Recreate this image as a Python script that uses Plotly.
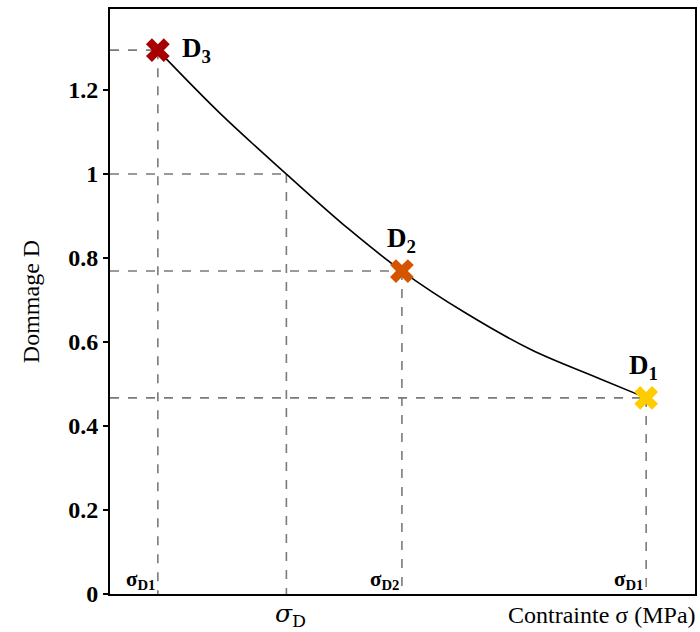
import plotly.graph_objects as go

# Curve (stress in arbitrary units, damage D)
curve_sigma = [8.18, 19.0, 30.15, 40.9, 49.9, 60.8, 72.1, 83.5, 91.65]
curve_D = [1.295, 1.142, 1.0, 0.868, 0.769, 0.669, 0.581, 0.514, 0.467]

# Marked points
point_names = ["D<sub>3</sub>", "D<sub>2</sub>", "D<sub>1</sub>"]
point_sigma = [8.18, 49.9, 91.65]
point_D = [1.295, 0.769, 0.467]
point_colors = ["#A80000", "#D45500", "#FFCC00"]
sigma_labels = ["σ<sub>D1</sub>", "σ<sub>D2</sub>", "σ<sub>D1</sub>"]

# Critical damage
sigma_D = 30.15
D_crit = 1.0

y_ticks = [0, 0.2, 0.4, 0.6, 0.8, 1.0, 1.2]
y_ticktext = ["0", "0.2", "0.4", "0.6", "0.8", "1", "1.2"]

SERIF = "Liberation Serif"
dash_style = dict(color="#7a7a7a", width=1.6, dash="dash")

fig = go.Figure()

shapes = []
for s, d in zip(point_sigma, point_D):
    shapes.append(dict(type="line", xref="x", yref="y", x0=0, x1=s, y0=d, y1=d,
                       line=dash_style, layer="below"))
    shapes.append(dict(type="line", xref="x", yref="y", x0=s, x1=s, y0=d, y1=0,
                       line=dash_style, layer="below"))
shapes.append(dict(type="line", xref="x", yref="y", x0=0, x1=sigma_D, y0=D_crit, y1=D_crit,
                   line=dash_style, layer="below"))
shapes.append(dict(type="line", xref="x", yref="y", x0=sigma_D, x1=sigma_D, y0=D_crit, y1=-0.015,
                   line=dash_style, layer="below"))

fig.add_trace(go.Scatter(x=curve_sigma, y=curve_D, mode="lines",
                         line=dict(color="black", width=1.6, shape="spline", smoothing=1.0),
                         showlegend=False, hoverinfo="skip"))

fig.add_trace(go.Scatter(x=point_sigma, y=point_D, mode="markers",
                         marker=dict(symbol="x", size=21, color=point_colors,
                                     line=dict(width=0)),
                         showlegend=False, cliponaxis=False))

annotations = []
# point labels
label_offsets = [(22, 0, "left"), (0, 31, "center"), (-3, 31, "center")]
for name, s, d, (dx, dy, anc) in zip(point_names, point_sigma, point_D, label_offsets):
    annotations.append(dict(x=s, y=d, xref="x", yref="y", text="<b>" + name + "</b>",
                            showarrow=False, xanchor=anc, xshift=dx, yshift=dy,
                            font=dict(family=SERIF, size=27, color="black")))
# sigma labels at bottom inside the axes
for lab, s in zip(sigma_labels, point_sigma):
    annotations.append(dict(x=s, y=0, xref="x", yref="y", text="<b>" + lab + "</b>",
                            showarrow=False, xanchor="right", yanchor="bottom",
                            xshift=-1, yshift=-1,
                            font=dict(family=SERIF, size=21, color="black")))
annotations.append(dict(x=sigma_D, y=0, xref="x", yref="y",
                        text="<i>σ</i><sub>D</sub>", showarrow=False,
                        yanchor="top", yshift=-3, xshift=4,
                        font=dict(family="DejaVu Serif", size=25, color="black")))
annotations.append(dict(x=1.0, y=0, xref="paper", yref="y",
                        text="Contrainte σ (MPa)", showarrow=False,
                        xanchor="right", yanchor="top", yshift=-6, xshift=3,
                        font=dict(family=SERIF, size=24, color="black")))

fig.update_layout(
    width=700, height=632,
    margin=dict(l=110, r=3, t=9, b=38),
    plot_bgcolor="white", paper_bgcolor="white",
    shapes=shapes, annotations=annotations,
    xaxis=dict(range=[0, 100], showgrid=False, zeroline=False, showticklabels=False,
               ticks="", showline=True, linecolor="black", linewidth=2, mirror=True),
    yaxis=dict(range=[0, 1.393], showgrid=False, zeroline=False,
               tickvals=y_ticks, ticktext=["<b>" + t + "</b>" for t in y_ticktext],
               ticks="outside", ticklen=5, tickcolor="black", tickwidth=1.5,
               tickfont=dict(family=SERIF, size=24, color="black"),
               showline=True, linecolor="black", linewidth=2, mirror=True,
               title=dict(text="Dommage D", font=dict(family=SERIF, size=24, color="black"),
                          standoff=22)),
)

fig.write_html("out.html", config={"displayModeBar": False},
               post_script="document.body.style.margin='0px';")
